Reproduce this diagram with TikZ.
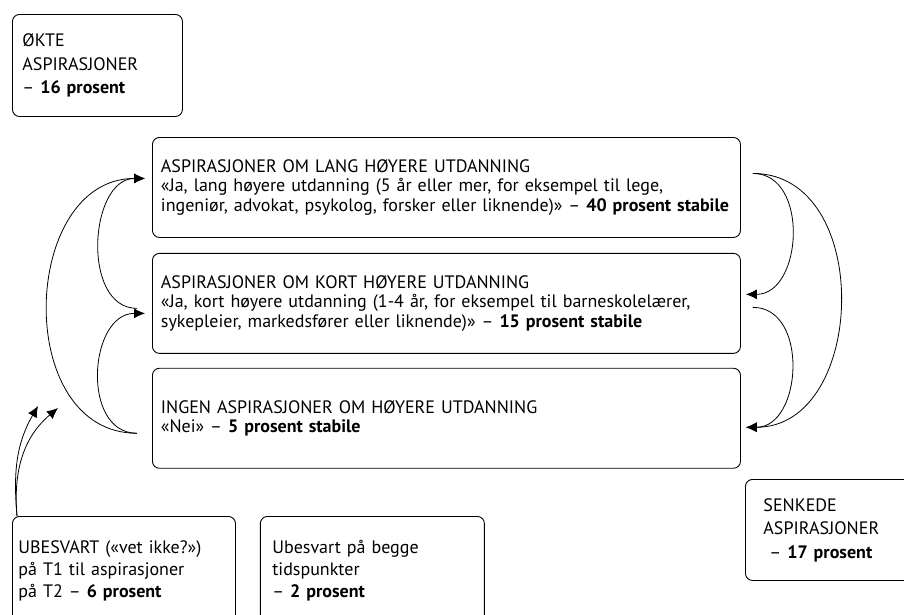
\documentclass[tikz,border=0pt]{standalone}
\usepackage{fontspec}
\setmainfont{PT Sans}
\usetikzlibrary{arrows.meta,positioning}

\tikzset{
 box/.style={draw,rounded corners=7pt,line width=0.9pt,align=left,anchor=north west,
  inner xsep=10pt,font=\fontsize{18}{23.5}\selectfont},
 midbox/.style={box,inner xsep=8.5pt,text width=571pt,minimum height=100pt,
  font=\fontsize{18}{19.5}\selectfont},
 lowbox/.style={box,inner ysep=24pt,text height=13pt,text depth=90pt,
  font=\fontsize{18}{22}\selectfont},
 flow/.style={-{Latex[length=11pt,width=10pt]},line width=0.8pt},
}

\begin{document}
\begin{tikzpicture}[x=1pt,y=1pt]
 \useasboundingbox (0,0) rectangle (904,-614);
 \node[box,text width=150pt,minimum height=102pt] (okte) at (12,-14)
  {ØKTE\\ASPIRASJONER\\– \textbf{16 prosent}};
 \node[midbox] (lang) at (152,-137)
  {ASPIRASJONER OM LANG HØYERE UTDANNING\\
   «Ja, lang høyere utdanning (5 år eller mer, for eksempel til lege,\\
   ingeniør, advokat, psykolog, forsker eller liknende)» – \textbf{40 prosent stabile}};
 \node[midbox] (kort) [below=15pt of lang]
  {ASPIRASJONER OM KORT HØYERE UTDANNING\\
   «Ja, kort høyere utdanning (1-4 år, for eksempel til barneskolelærer,\\
   sykepleier, markedsfører eller liknende)» – \textbf{15 prosent stabile}};
 \node[midbox] (ingen) [below=14pt of kort]
  {INGEN ASPIRASJONER OM HØYERE UTDANNING\\
   «Nei» – \textbf{5 prosent stabile}};
 \node[lowbox,inner xsep=6pt,text width=211pt] (vetikke) at (12,-516)
  {UBESVART («vet ikke?»)\\på T1 til aspirasjoner\\på T2 – \textbf{6 prosent}};
 \node[lowbox,inner xsep=12pt,text width=200pt] (begge) [right=24pt of vetikke.north east,anchor=north west]
  {Ubesvart på begge\\tidspunkter\\– \textbf{2 prosent}};
 \node[box,inner xsep=18pt,text width=150pt,minimum height=101pt] (senkede) at (745,-479)
  {SENKEDE\\ASPIRASJONER\\\ – \textbf{17 prosent}};

 \draw[flow] ([xshift=-15pt,yshift=-5pt]kort.west) to[out=180,in=180,looseness=1.1] ([xshift=-7pt,yshift=9pt]lang.west);
 \draw[flow] ([xshift=-15pt,yshift=-15pt]ingen.west) to[out=180,in=180,looseness=1.25] ([xshift=-7pt,yshift=9pt]lang.west);
 \draw[flow] ([xshift=-15pt,yshift=-15pt]ingen.west) to[out=180,in=180,looseness=1.2] ([xshift=-7pt,yshift=-10pt]kort.west);
 \draw[flow] ([xshift=12pt,yshift=14pt]lang.east) to[out=0,in=0,looseness=1.2] ([xshift=5pt,yshift=9pt]kort.east);
 \draw[flow] ([xshift=12pt,yshift=14pt]lang.east) to[out=0,in=0,looseness=1.22] ([xshift=5pt,yshift=-9pt]ingen.east);
 \draw[flow] ([xshift=12pt,yshift=-4pt]kort.east) to[out=0,in=0,looseness=1.2] ([xshift=5pt,yshift=-9pt]ingen.east);
 \draw[flow] ([xshift=5pt]vetikke.north west) to[out=95,in=240] (38,-406);
 \draw[flow] ([xshift=5pt]vetikke.north west) to[out=95,in=220] (58,-408);
\end{tikzpicture}
\end{document}
